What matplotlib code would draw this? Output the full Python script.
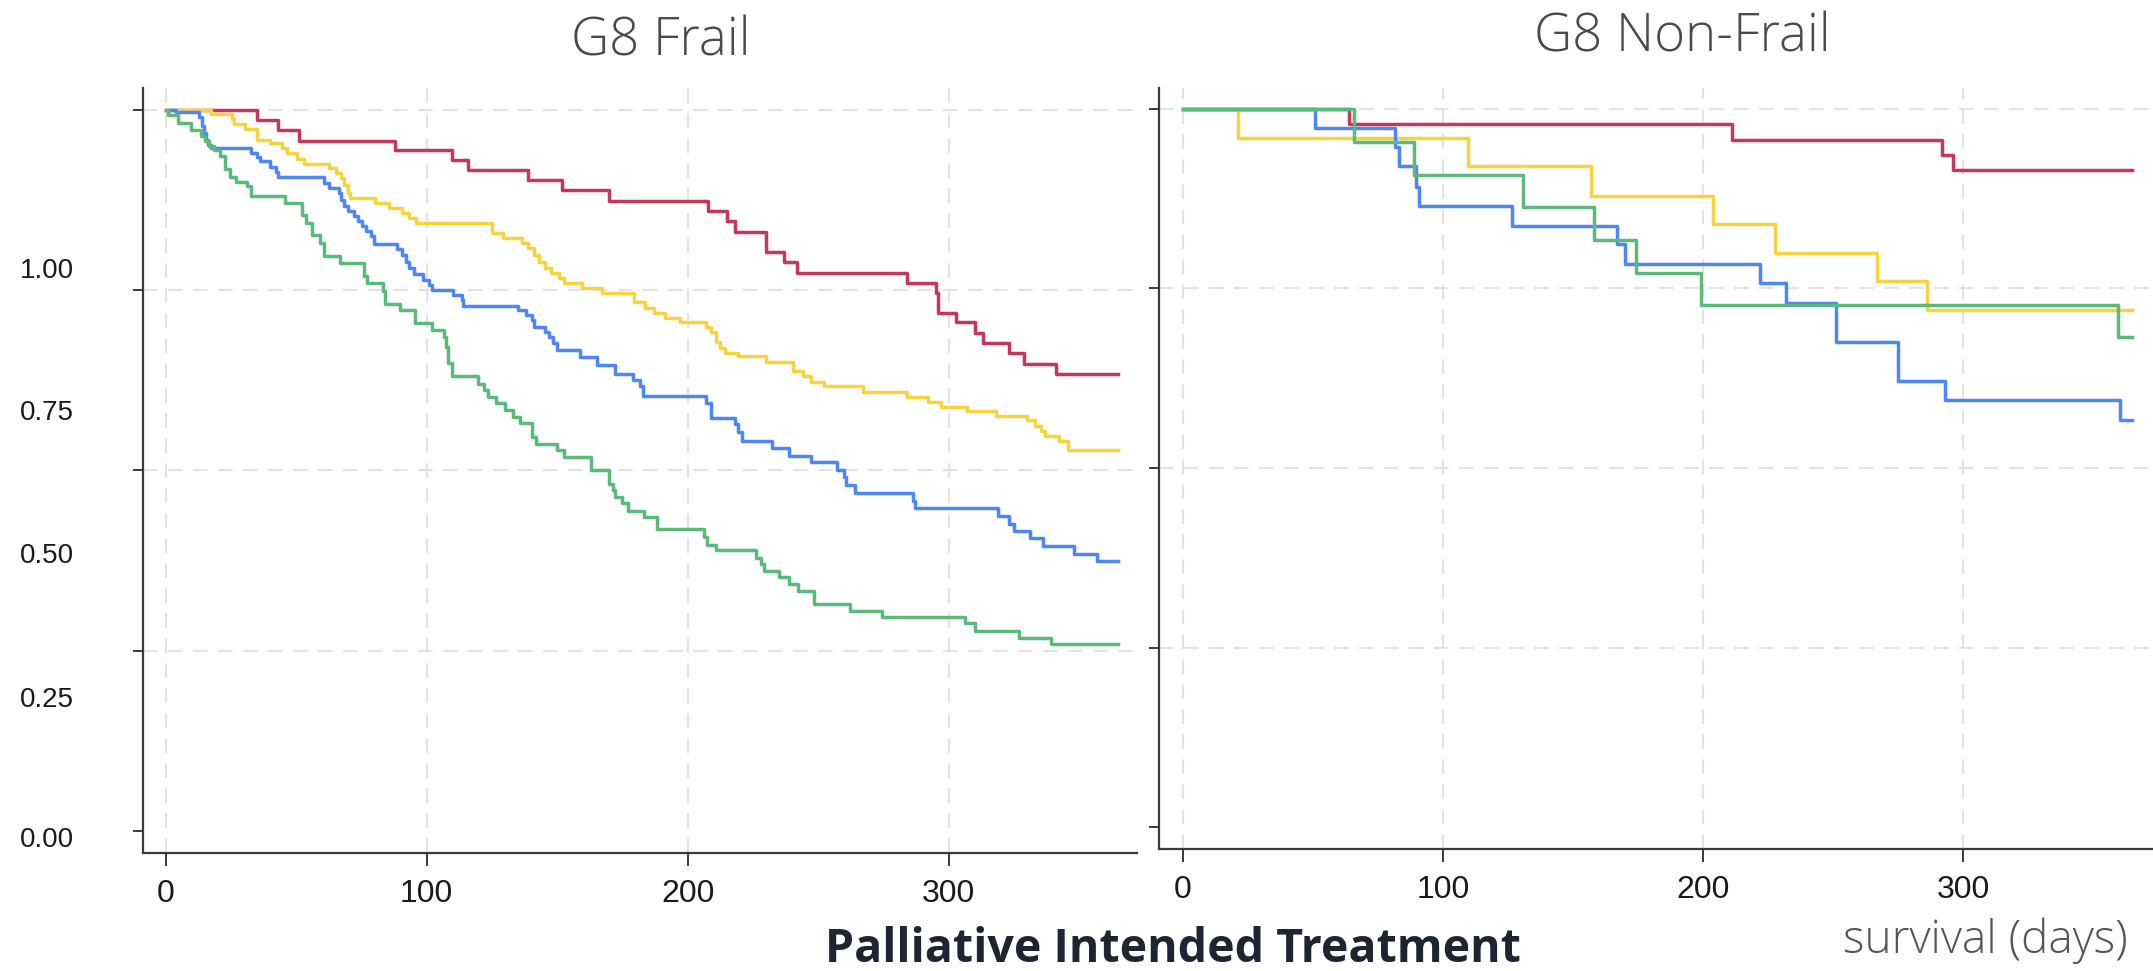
import matplotlib
matplotlib.use("Agg")
import matplotlib.pyplot as plt

# ---------------- data ----------------
panel_titles = ["G8 Frail", "G8 Non-Frail"]
x_ticks = [0, 100, 200, 300]
y_ticks = [0.0, 0.25, 0.5, 0.75, 1.0]
y_tick_labels = ["1.00", "0.75", "0.50", "0.25", "0.00"]
suptitle = "Palliative Intended Treatment"
x_axis_label = "survival (days)"
series_colors = ["#C4365A", "#F5D43E", "#4F86F5", "#5BBA7A"]

# G8 Frail
frail_red_t = [0, 34.8, 42.9, 51, 87.8, 109.8, 115.8, 138.8, 152, 170, 207.9, 215, 218, 230, 237, 242,
               284, 295, 296, 302.9, 310, 313, 323, 329, 341, 365]
frail_red_s = [1.0, 0.986, 0.971, 0.957, 0.944, 0.930, 0.916, 0.902, 0.888, 0.873, 0.859, 0.845, 0.830,
               0.802, 0.788, 0.774, 0.760, 0.745, 0.718, 0.705, 0.690, 0.676, 0.662, 0.647, 0.633, 0.633]

frail_yellow_t = [0, 17.3, 25.3, 26.1, 30.2, 34.8, 40.0, 44.4, 46.6, 50.2, 53.1, 62.7, 65.3, 67.1, 68.5,
                  70.0, 70.7, 80.2, 85.4, 90.5, 93.4, 96.0, 124.9, 129.3, 136.6, 138.8, 141.0, 143.2,
                  145.4, 147.6, 150.5, 152.7, 159.3, 167.3, 179.5, 183.6, 187.0, 191.1, 196.9, 206.8,
                  208.9, 210.9, 212.3, 214.3, 219.1, 230.1, 240.3, 244.1, 247.1, 252.3, 267.3, 284.0,
                  291.9, 297.0, 307.0, 318.2, 329.8, 332.9, 335.2, 337.0, 342.1, 345.5, 365]
frail_yellow_s = [1.0, 0.994, 0.987, 0.980, 0.973, 0.958, 0.954, 0.947, 0.940, 0.932, 0.925, 0.919,
                  0.912, 0.905, 0.896, 0.884, 0.877, 0.870, 0.863, 0.856, 0.850, 0.842, 0.829, 0.822,
                  0.815, 0.808, 0.799, 0.789, 0.780, 0.773, 0.766, 0.759, 0.752, 0.745, 0.733, 0.725,
                  0.718, 0.711, 0.706, 0.699, 0.691, 0.678, 0.670, 0.663, 0.658, 0.650, 0.637, 0.630,
                  0.623, 0.617, 0.609, 0.602, 0.595, 0.588, 0.582, 0.575, 0.569, 0.561, 0.554, 0.548,
                  0.541, 0.528, 0.528]

frail_blue_t = [0, 4.1, 12.6, 14.1, 14.6, 15.5, 16.3, 17.3, 32.6, 34.8, 36.0, 40.0, 42.2, 42.9, 60.5,
                62.7, 66.3, 67.1, 68.5, 70.0, 72.2, 73.6, 75.1, 76.6, 78.8, 79.9, 88.7, 90.5, 91.9,
                93.4, 95.2, 98.5, 100.7, 102.2, 110.2, 113.6, 113.9, 135.1, 138.1, 140.3, 141.0,
                145.4, 146.9, 148.3, 149.8, 158.6, 165.2, 172, 178.9, 181.6, 182.9, 206.8, 208.9,
                218.2, 219.1, 220.9, 232.1, 238.9, 247.1, 257.0, 259.8, 260.8, 264.2, 286.1, 287.0,
                318.9, 323, 325, 331.1, 335.9, 347.9, 356.8, 365]
frail_blue_s = [1.0, 0.996, 0.990, 0.977, 0.968, 0.958, 0.951, 0.947, 0.940, 0.934, 0.928, 0.920,
                0.913, 0.906, 0.898, 0.891, 0.884, 0.875, 0.866, 0.859, 0.852, 0.845, 0.838, 0.831,
                0.824, 0.814, 0.806, 0.799, 0.789, 0.780, 0.772, 0.764, 0.757, 0.750, 0.743, 0.736,
                0.728, 0.722, 0.715, 0.708, 0.699, 0.692, 0.685, 0.676, 0.667, 0.657, 0.646, 0.634,
                0.625, 0.617, 0.603, 0.593, 0.572, 0.564, 0.553, 0.541, 0.531, 0.520, 0.511, 0.500,
                0.490, 0.479, 0.468, 0.458, 0.447, 0.437, 0.426, 0.416, 0.406, 0.395, 0.384, 0.374,
                0.374]

frail_green_t = [0, 1, 4.8, 9.7, 13.6, 15.1, 16.5, 18.4, 20.9, 22.8, 24.6, 26.8, 31.2, 32.6, 45.8,
                 52.4, 53.9, 56.1, 59.0, 60.5, 66.8, 75.8, 77.0, 83.2, 83.9, 89.8, 95.6, 102.2, 106.6,
                 107.3, 108.3, 109.5, 119.8, 122.0, 123.4, 126.4, 130.0, 132.9, 135.9, 140.3, 141.7,
                 149.8, 152.7, 163.0, 170, 171.3, 172, 174.7, 177.2, 183.2, 188.4, 206.1, 207.5,
                 210.9, 226, 228, 229.4, 234.8, 238.9, 242.1, 248.2, 262.2, 274.5, 306.1, 310, 327,
                 339.3, 365]
frail_green_s = [1.0, 0.993, 0.981, 0.971, 0.963, 0.956, 0.949, 0.944, 0.935, 0.918, 0.907, 0.900,
                 0.894, 0.880, 0.870, 0.854, 0.843, 0.826, 0.815, 0.797, 0.787, 0.769, 0.759, 0.748,
                 0.731, 0.722, 0.704, 0.694, 0.685, 0.671, 0.648, 0.630, 0.620, 0.611, 0.602, 0.593,
                 0.583, 0.574, 0.565, 0.546, 0.537, 0.528, 0.519, 0.500, 0.481, 0.473, 0.463, 0.455,
                 0.444, 0.435, 0.418, 0.407, 0.397, 0.389, 0.379, 0.370, 0.360, 0.352, 0.342, 0.333,
                 0.314, 0.305, 0.296, 0.288, 0.277, 0.268, 0.259, 0.259]

# G8 Non-Frail
nonfrail_red_t = [0, 63.8, 211, 291.8, 296.1, 365]
nonfrail_red_s = [1.0, 0.979, 0.957, 0.936, 0.915, 0.915]

nonfrail_yellow_t = [0, 21.1, 109.8, 157, 204, 227.9, 266.9, 286, 365]
nonfrail_yellow_s = [1.0, 0.959, 0.920, 0.879, 0.840, 0.800, 0.760, 0.720, 0.720]

nonfrail_blue_t = [0, 50.8, 81.5, 83, 89.5, 90.9, 126.7, 166.8, 169.9, 222, 231.8, 251, 275.1,
                   293.2, 360.4, 365]
nonfrail_blue_s = [1.0, 0.973, 0.947, 0.920, 0.892, 0.865, 0.837, 0.812, 0.784, 0.757, 0.730,
                   0.676, 0.621, 0.594, 0.567, 0.567]

nonfrail_green_t = [0, 65.9, 88.9, 130.9, 158.1, 174.2, 199.2, 359.5, 365]
nonfrail_green_s = [1.0, 0.954, 0.908, 0.864, 0.818, 0.772, 0.727, 0.682, 0.682]

panels = [
    [(frail_red_t, frail_red_s), (frail_yellow_t, frail_yellow_s),
     (frail_blue_t, frail_blue_s), (frail_green_t, frail_green_s)],
    [(nonfrail_red_t, nonfrail_red_s), (nonfrail_yellow_t, nonfrail_yellow_s),
     (nonfrail_blue_t, nonfrail_blue_s), (nonfrail_green_t, nonfrail_green_s)],
]

# ---------------- layout ----------------
W, H, DPI = 2153, 971, 100
fig = plt.figure(figsize=(W / DPI, H / DPI), dpi=DPI)
fig.patch.set_facecolor("white")

def fx(px):
    return px / W

def fy(py):
    return 1 - py / H

# [left_px, right_px, top_px, bottom_px], xlim, ylim
axes_specs = [
    dict(box=(142.7, 1137, 88, 853), xlim=(-8.8, 372.1), ylim=(-0.0305, 1.0298)),
    dict(box=(1159, 2153, 88, 849), xlim=(-9.2, 373.1), ylim=(-0.0306, 1.0292)),
]

spine_color = "#3a3a3a"
grid_color = "#e3e3e3"
tick_font = ["Liberation Sans", "DejaVu Sans"]
title_font = ["Open Sans", "DejaVu Sans"]

for spec, curves in zip(axes_specs, panels):
    l, r, t, b = spec["box"]
    ax = fig.add_axes([fx(l), fy(b), fx(r) - fx(l), fy(t) - fy(b)])
    ax.set_xlim(*spec["xlim"])
    ax.set_ylim(*spec["ylim"])
    for s in ["top", "right"]:
        ax.spines[s].set_visible(False)
    for s in ["left", "bottom"]:
        ax.spines[s].set_color(spine_color)
        ax.spines[s].set_linewidth(1.6)
    # grid
    for xv in x_ticks:
        ax.axvline(xv, color=grid_color, lw=1.5, ls=(0, (7.0, 5.0)), zorder=0)
    for yv in y_ticks[1:]:
        ax.axhline(yv, color=grid_color, lw=1.5, ls=(0, (7.0, 5.0)), zorder=0)
    # curves
    for (tt, ss), c in zip(curves, series_colors):
        ax.step(tt, ss, where="post", color=c, lw=2.5, zorder=3)
    ax.set_xticks(x_ticks)
    ax.set_xticklabels([str(v) for v in x_ticks], fontfamily=tick_font, fontsize=23, color="#1a1a1a")
    ax.set_yticks(y_ticks)
    ax.tick_params(axis="x", direction="out", length=9.4, width=1.4, color=spine_color, pad=9)
    ax.tick_params(axis="y", direction="out", length=7.2, width=1.4, color=spine_color,
                   labelleft=False)

# odd-placed y labels on the left margin
label_y_px = [271, 413, 556, 700, 840]
for lab, py in zip(y_tick_labels, label_y_px):
    fig.text(fx(74), fy(py), lab, ha="right", va="center", fontfamily=tick_font,
             fontsize=20, color="#1a1a1a")

# panel titles
fig.text(fx(661), fy(55), panel_titles[0], ha="center", va="baseline", fontfamily=title_font,
         fontweight="light", fontsize=38, color="#4a4a4a")
fig.text(fx(1682), fy(51), panel_titles[1], ha="center", va="baseline", fontfamily=title_font,
         fontweight="light", fontsize=38, color="#4a4a4a")

# bottom texts
fig.text(fx(825), fy(962), suptitle, ha="left", va="baseline", fontfamily=title_font,
         fontweight="bold", fontsize=33.5, color="#1e2430")
fig.text(fx(1843), fy(953), x_axis_label, ha="left", va="baseline", fontfamily=title_font,
         fontweight="light", fontsize=33, color="#555555")

fig.savefig("out.png", dpi=DPI, facecolor="white")
